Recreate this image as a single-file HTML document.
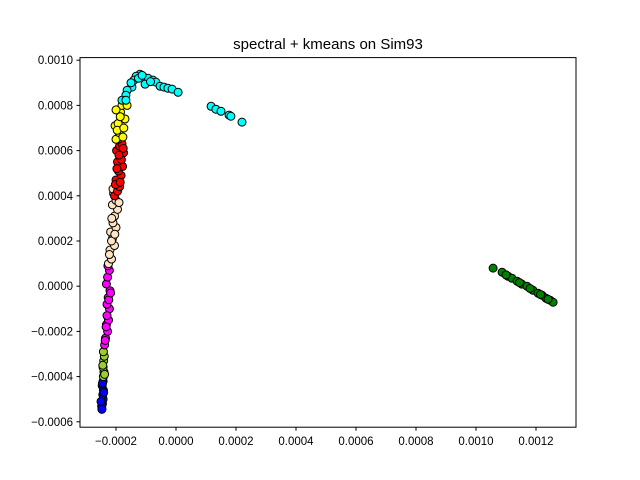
<!DOCTYPE html>
<html><head><meta charset="utf-8"><style>
body{margin:0;background:#fff}
svg{display:block;font-family:"Liberation Sans","DejaVu Sans",sans-serif}
</style></head><body>
<svg id="c" width="640" height="480" viewBox="0 0 640 480">
<rect width="640" height="480" fill="#fff"/>
<text x="328" y="49" text-anchor="middle" font-size="15">spectral + kmeans on Sim93</text>
<g id="marks"></g>
<rect x="80" y="57.6" width="496" height="369.6" fill="none" stroke="#000" stroke-width="1"/>
<g id="axes"></g>
</svg>
<script>
const xTicks=[-0.0002,0,0.0002,0.0004,0.0006,0.0008,0.0010,0.0012];
const xTickLabels=["−0.0002","0.0000","0.0002","0.0004","0.0006","0.0008","0.0010","0.0012"];
const yTicks=[-0.0006,-0.0004,-0.0002,0,0.0002,0.0004,0.0006,0.0008,0.0010];
const yTickLabels=["−0.0006","−0.0004","−0.0002","0.0000","0.0002","0.0004","0.0006","0.0008","0.0010"];
const clusterNames=["blue","yellowgreen","magenta","bisque","red","yellow","cyan","green"];
const clusterColors=["#0000ff","#9acd32","#ff00ff","#ffe4c4","#ff0000","#ffff00","#00ffff","#008000"];
const blueX=[-0.000247,-0.000245,-0.000243,-0.000248,-0.000244,-0.000242,-0.000246,-0.000243,-0.000247,-0.000250,-0.000241,-0.000245];
const blueY=[-0.00054,-0.00052,-0.00050,-0.00053,-0.00048,-0.00046,-0.00044,-0.00042,-0.000545,-0.00051,-0.00047,-0.00043];
const yellowgreenX=[-0.000242,-0.000240,-0.000243,-0.000241,-0.000239,-0.000242,-0.000244,-0.000238];
const yellowgreenY=[-0.00040,-0.00038,-0.00036,-0.00033,-0.00031,-0.00029,-0.00035,-0.00039];
const magentaX=[-0.000238,-0.000235,-0.000228,-0.000232,-0.000225,-0.000222,-0.000230,-0.000226,-0.000220,-0.000232,-0.000228,-0.000222,-0.000236,-0.000230,-0.000224,-0.000218,-0.000233,-0.000227];
const magentaY=[-0.00026,-0.00023,-0.00020,-0.00017,-0.00015,-0.00010,-0.00008,-0.00005,-0.00002,0.00001,0.00004,0.00007,-0.00024,-0.00013,-0.00006,-0.00003,-0.00018,0.00009];
const bisqueX=[-0.000225,-0.000215,-0.000220,-0.000205,-0.000212,-0.000218,-0.000200,-0.000210,-0.000205,-0.000195,-0.000212,-0.000200,-0.000208,-0.000196,-0.000222,-0.000215,-0.000204,-0.000214,-0.000190,-0.000210];
const bisqueY=[0.00010,0.00012,0.00016,0.00018,0.00021,0.00024,0.00026,0.00028,0.00031,0.00034,0.00036,0.00038,0.00041,0.00045,0.00014,0.00020,0.00023,0.00030,0.00037,0.00043];
const redX=[-0.000205,-0.000195,-0.000188,-0.000200,-0.000183,-0.000192,-0.000178,-0.000195,-0.000185,-0.000175,-0.000198,-0.000188,-0.000180,-0.000192,-0.000202,-0.000186,-0.000197,-0.000182,-0.000190,-0.000176];
const redY=[0.00040,0.00042,0.00044,0.00047,0.00049,0.00051,0.00053,0.00055,0.00057,0.00059,0.00060,0.00062,0.00063,0.00065,0.00045,0.00046,0.00052,0.00056,0.00058,0.00061];
const yellowX=[-0.000200,-0.000190,-0.000177,-0.000203,-0.000193,-0.000170,-0.000185,-0.000180,-0.000163,-0.000196,-0.000186,-0.000174,-0.000200];
const yellowY=[0.00065,0.00068,0.00066,0.00071,0.00072,0.00074,0.00077,0.00080,0.00080,0.00069,0.00075,0.00070,0.00078];
const cyanX=[-0.000120,-0.000133,-0.000140,-0.000107,-0.000093,-0.000077,-0.000067,-0.000053,-0.000040,-0.000027,-0.000013,0.000007,-0.000103,-0.000147,-0.000163,-0.000167,-0.000180,-0.000167,0.000117,0.000133,0.000150,0.000177,0.000183,0.000220,-0.000125,-0.000113,-0.000085,-0.000150];
const cyanY=[0.000938,0.000929,0.000912,0.000925,0.000920,0.000912,0.000903,0.000885,0.000881,0.000876,0.000872,0.000858,0.000894,0.000881,0.000867,0.000845,0.000823,0.000823,0.000796,0.000783,0.000774,0.000757,0.000752,0.000726,0.000920,0.000933,0.000905,0.000900];
const greenX=[0.001057,0.001087,0.001107,0.001120,0.001137,0.001153,0.001170,0.001190,0.001207,0.001220,0.001233,0.001247,0.001257,0.001100,0.001145,0.001180,0.001215,0.001240];
const greenY=[0.000080,0.000062,0.000044,0.000035,0.000022,0.000009,0.000000,-0.000018,-0.000031,-0.000040,-0.000053,-0.000062,-0.000071,0.000050,0.000016,-0.000010,-0.000037,-0.000058];
const seriesX=[blueX,yellowgreenX,magentaX,bisqueX,redX,yellowX,cyanX,greenX];
const seriesY=[blueY,yellowgreenY,magentaY,bisqueY,redY,yellowY,cyanY,greenY];

function xs(v){return 176+v*300000;}
function ys(v){return 286.2-v*226000;}
const NS="http://www.w3.org/2000/svg";
const marks=document.getElementById('marks');
for(let s=0;s<seriesX.length;s++){
  const g=document.createElementNS(NS,'g');
  
  
  for(let i=0;i<seriesX[s].length;i++){
    const c=document.createElementNS(NS,'circle');
    c.setAttribute('cx',xs(seriesX[s][i]));
    c.setAttribute('cy',ys(seriesY[s][i]));
    c.setAttribute('r',4);
    c.setAttribute('fill',clusterColors[s]);
    c.setAttribute('stroke','#000');
    c.setAttribute('stroke-width','1');
    
    
    g.appendChild(c);
  }
  marks.appendChild(g);
}
const axes=document.getElementById('axes');
xTicks.forEach((t,i)=>{
  const x=xs(t);
  const l=document.createElementNS(NS,'line');
  l.setAttribute('x1',x);l.setAttribute('x2',x);l.setAttribute('y1',427.2);l.setAttribute('y2',430.7);
  l.setAttribute('stroke','#000');
  
  
  axes.appendChild(l);
  const tx=document.createElementNS(NS,'text');
  tx.setAttribute('x',x);tx.setAttribute('y',445);tx.setAttribute('text-anchor','middle');tx.setAttribute('font-size','11.5');
  tx.textContent=xTickLabels[i];
  
  
  axes.appendChild(tx);
});
yTicks.forEach((t,i)=>{
  const y=ys(t);
  const l=document.createElementNS(NS,'line');
  l.setAttribute('x1',76.5);l.setAttribute('x2',80);l.setAttribute('y1',y);l.setAttribute('y2',y);
  l.setAttribute('stroke','#000');
  
  
  axes.appendChild(l);
  const tx=document.createElementNS(NS,'text');
  tx.setAttribute('x',73);tx.setAttribute('y',y+4);tx.setAttribute('text-anchor','end');tx.setAttribute('font-size','11.5');
  tx.textContent=yTickLabels[i];
  
  
  axes.appendChild(tx);
});
</script>
</body></html>
